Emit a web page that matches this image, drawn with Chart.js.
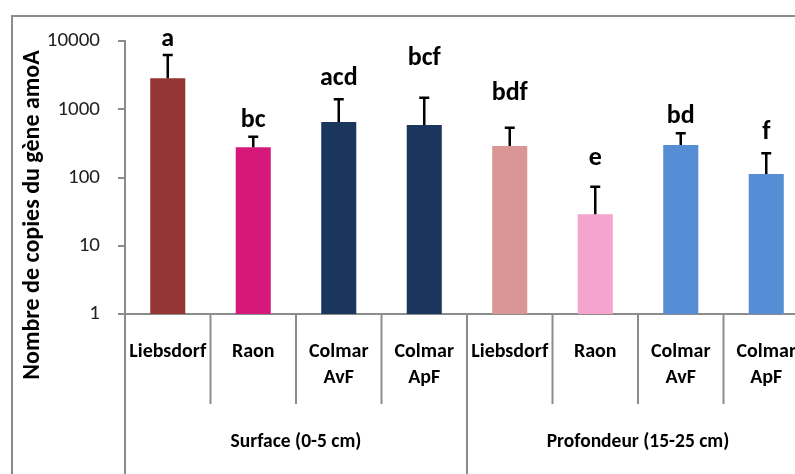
<!DOCTYPE html>
<html>
<head>
<meta charset="utf-8">
<script src="https://cdn.jsdelivr.net/npm/chart.js@4.4.1/dist/chart.umd.min.js"></script>
<style>
  html, body { margin: 0; padding: 0; background: #fff; overflow: hidden; }
  #wrap { position: relative; width: 830px; height: 474px; }
  #frame {
    position: absolute; left: 11px; top: 15px; width: 900px; height: 600px;
    border: 2px solid #8c8c8c; box-sizing: border-box;
  }
  canvas { position: absolute; left: 0; top: 0; }
</style>
</head>
<body>
<div id="wrap">
  <div id="frame"></div>
  <canvas id="chart" width="830" height="474"></canvas>
</div>
<script>
// ── Data ──────────────────────────────────────────────────
const SITES = ['Liebsdorf', 'Raon', 'Colmar AvF', 'Colmar ApF',
               'Liebsdorf', 'Raon', 'Colmar AvF', 'Colmar ApF'];
const GROUPS = ['Surface (0-5 cm)', 'Profondeur (15-25 cm)'];
const COPIES = [2840, 277, 650, 588, 290, 29, 299, 113];
const ERR_UP = [3400, 119, 750, 890, 247, 44, 145, 113];
const LETTERS = ['a', 'bc', 'acd', 'bcf', 'bdf', 'e', 'bd', 'f'];
const LETTER_AT = [10350, 695, 2775, 5450, 1730, 193, 770, 449];
const Y_TICKS = [1, 10, 100, 1000, 10000];
const COLORS = ['#943634', '#d6187a', '#1a365d', '#1a365d',
                '#d99694', '#f5a3cf', '#558ed5', '#558ed5'];

const FONT = 'Carlito, Lato, "Liberation Sans", sans-serif';
const GRAY = '#8c8c8c';

// error bars, letters, two-level category axis, y title
const extras = {
  id: 'extras',
  afterDatasetsDraw(chart) {
    const { ctx, scales: { x, y }, chartArea } = chart;
    const meta = chart.getDatasetMeta(0);
    ctx.save();

    // error bars (upper only)
    ctx.strokeStyle = '#000';
    ctx.lineWidth = 2.5;
    meta.data.forEach((bar, i) => {
      const top = y.getPixelForValue(COPIES[i] + ERR_UP[i]);
      ctx.beginPath();
      ctx.moveTo(bar.x, bar.y);
      ctx.lineTo(bar.x, top);
      ctx.moveTo(bar.x - 5, top);
      ctx.lineTo(bar.x + 5, top);
      ctx.stroke();
    });

    // significance letters
    ctx.fillStyle = '#000';
    ctx.font = 'bold 26px ' + FONT;
    ctx.textAlign = 'center';
    ctx.textBaseline = 'middle';
    meta.data.forEach((bar, i) => {
      ctx.fillText(LETTERS[i], bar.x, y.getPixelForValue(LETTER_AT[i]));
    });

    // separators below the axis
    const half = (x.getPixelForValue(1) - x.getPixelForValue(0)) / 2;
    const base = chartArea.bottom;
    ctx.strokeStyle = GRAY;
    ctx.lineWidth = 2;
    for (let i = 0; i <= SITES.length; i++) {
      const px = x.getPixelForValue(i) - half;
      const long = i % 4 === 0;
      ctx.beginPath();
      ctx.moveTo(px, base);
      ctx.lineTo(px, long ? chart.height : base + 90);
      ctx.stroke();
    }

    // category labels
    ctx.fillStyle = '#000';
    ctx.font = 'bold 20px ' + FONT;
    SITES.forEach((s, i) => {
      const px = x.getPixelForValue(i);
      const lines = s.split(' ');
      lines.forEach((l, k) => ctx.fillText(l, px, base + 38 + k * 26));
    });

    // group labels
    ctx.font = 'bold 19.5px ' + FONT;
    GROUPS.forEach((g, gi) => {
      const left = x.getPixelForValue(gi * 4) - half;
      const right = x.getPixelForValue(gi * 4 + 3) + half;
      ctx.fillText(g, (left + right) / 2, base + 128);
    });

    // y title
    ctx.font = 'bold 24px ' + FONT;
    ctx.translate(33, 215);
    ctx.rotate(-Math.PI / 2);
    ctx.fillText('Nombre de copies du gène amoA', 0, 0);
    ctx.restore();
  }
};

new Chart(document.getElementById('chart'), {
  type: 'bar',
  data: {
    labels: SITES,
    datasets: [{
      data: COPIES,
      backgroundColor: COLORS,
      borderWidth: 0,
      categoryPercentage: 1,
      barPercentage: 0.41,
    }],
  },
  options: {
    responsive: false,
    animation: false,
    devicePixelRatio: 1,
    layout: { padding: { top: 41, right: 21, left: 0, bottom: 0 } },
    plugins: { legend: { display: false }, tooltip: { enabled: false } },
    scales: {
      x: {
        ticks: { display: false },
        grid: { display: false },
        border: { color: GRAY, width: 2 },
        afterFit: s => { s.height = 160; },
      },
      y: {
        type: 'logarithmic',
        min: 1,
        max: 10000,
        afterBuildTicks: s => { s.ticks = Y_TICKS.map(v => ({ value: v })); },
        ticks: {
          padding: 18,
          color: '#222',
          font: { family: FONT, size: 21 },
          callback: v => String(v),
        },
        grid: { drawOnChartArea: false, tickLength: 7, color: GRAY, lineWidth: 2 },
        border: { color: GRAY, width: 2 },
        afterFit: s => { s.width = 125; },
      },
    },
  },
  plugins: [extras],
});
</script>
</body>
</html>
